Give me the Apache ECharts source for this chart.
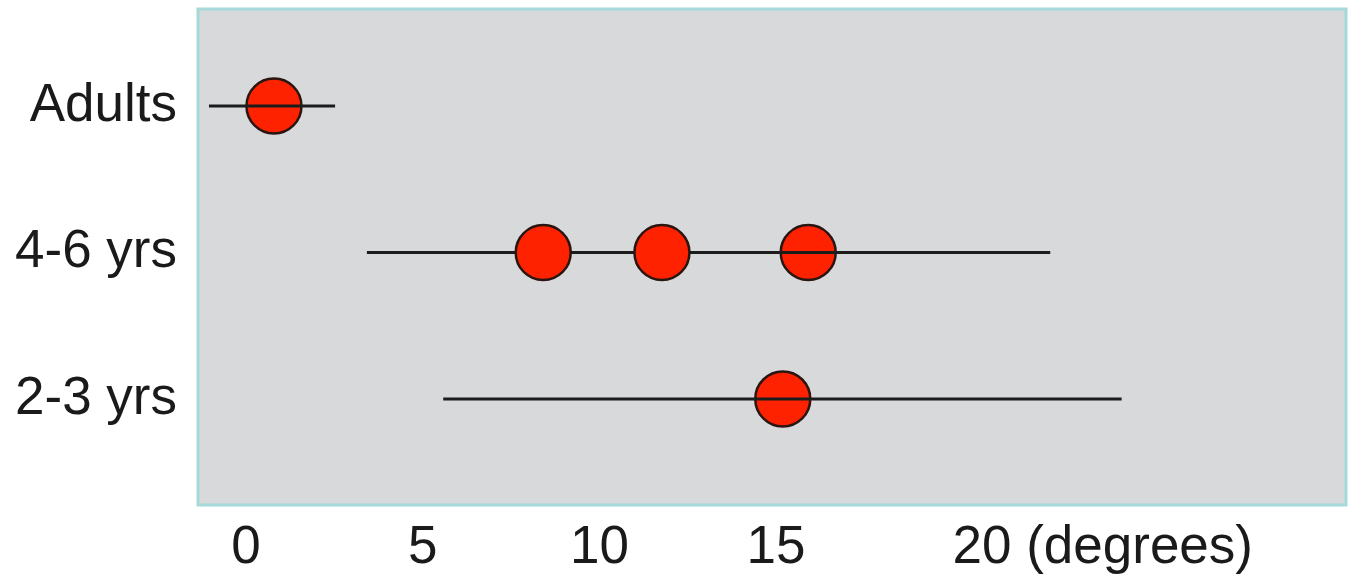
<!DOCTYPE html>
<html>
<head>
<meta charset="utf-8">
<script src="https://cdn.jsdelivr.net/npm/echarts@6/dist/echarts.min.js"></script>
<style>
  html, body { margin: 0; padding: 0; background: #ffffff; }
  #chart { width: 1355px; height: 583px; }
</style>
</head>
<body>
<div id="chart"></div>
<script>
// Age groups, placed at y = 1, 2, 3 (bottom to top)
const groups = ['2-3 yrs', '4-6 yrs', 'Adults'];
const groupPos = [1, 2, 3];

// Horizontal range bars for each group (degrees)
const rangeLow  = [5.58, 3.42, -1.05];
const rangeHigh = [24.78, 22.76, 2.52];

// Mean points (degrees) per group, split by whether the range bar passes over them
const adultsBehind = [0.79];
const yrs46Behind  = [15.91];
const yrs23Behind  = [15.19];
const yrs46Front   = [8.41, 11.77];

// X axis ticks
const xTicks = [0, 5, 10, 15, 20];
const xUnitLabel = '(degrees)';

const behindPoints = []
  .concat(adultsBehind.map(v => [v, groupPos[2]]))
  .concat(yrs46Behind.map(v => [v, groupPos[1]]))
  .concat(yrs23Behind.map(v => [v, groupPos[0]]));
const frontPoints = yrs46Front.map(v => [v, groupPos[1]]);
const rangeData = groups.map((g, i) => [rangeLow[i], rangeHigh[i], groupPos[i]]);

const font = 'Liberation Sans, Arial, Helvetica, sans-serif';
const dotStyle = { color: '#ff2200', opacity: 1, borderColor: '#2a1510', borderWidth: 2.5 };

const chart = echarts.init(document.getElementById('chart'), null, { renderer: 'canvas' });
chart.setOption({
  animation: false,
  backgroundColor: '#ffffff',
  grid: {
    left: 198, top: 9, width: 1148, height: 496,
    show: true,
    backgroundColor: '#d8d9db',
    borderColor: '#a6dada',
    borderWidth: 3
  },
  xAxis: {
    type: 'value',
    min: -1.36,
    max: 31.13,
    axisLine: { show: false },
    axisTick: { show: false },
    splitLine: { show: false },
    axisLabel: {
      customValues: xTicks,
      margin: 17,
      fontFamily: font,
      fontSize: 53,
      color: '#1a1a1a',
      formatter: function (v) {
        if (v === xTicks[xTicks.length - 1]) {
          return '{last|' + v + ' ' + xUnitLabel + '}';
        }
        return String(v);
      },
      rich: {
        last: {
          fontFamily: font,
          fontSize: 53,
          color: '#1a1a1a',
          padding: [0, 0, 0, 300]
        }
      }
    }
  },
  yAxis: {
    type: 'value',
    min: 0.276,
    max: 3.662,
    axisLine: { show: false },
    axisTick: { show: false },
    splitLine: { show: false },
    axisLabel: {
      customValues: groupPos,
      margin: 21,
      fontFamily: font,
      fontSize: 53,
      color: '#1a1a1a',
      formatter: function (v) {
        const i = groupPos.indexOf(Math.round(v));
        return i >= 0 ? groups[i] : '';
      }
    }
  },
  series: [
    {
      type: 'scatter',
      z: 2,
      symbol: 'circle',
      symbolSize: 55,
      itemStyle: dotStyle,
      emphasis: { disabled: true },
      data: behindPoints
    },
    {
      type: 'custom',
      z: 3,
      renderItem: function (params, api) {
        const a = api.coord([api.value(0), api.value(2)]);
        const b = api.coord([api.value(1), api.value(2)]);
        return {
          type: 'line',
          shape: { x1: a[0], y1: a[1], x2: b[0], y2: b[1] },
          style: { stroke: '#1c1c1c', lineWidth: 3 }
        };
      },
      encode: { x: [0, 1], y: 2 },
      data: rangeData
    },
    {
      type: 'scatter',
      z: 4,
      symbol: 'circle',
      symbolSize: 55,
      itemStyle: dotStyle,
      emphasis: { disabled: true },
      data: frontPoints
    }
  ]
});
</script>
</body>
</html>
